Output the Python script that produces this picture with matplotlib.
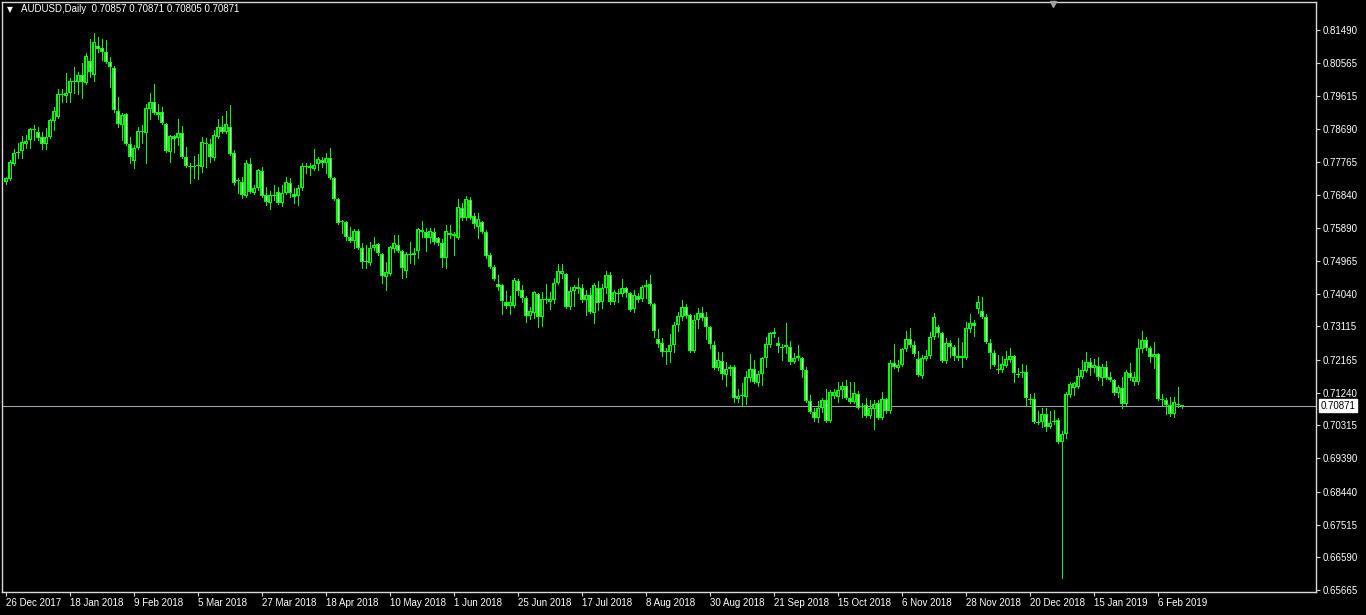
import numpy as np
import matplotlib
matplotlib.use("Agg")
from matplotlib import pyplot as plt

plt.rcParams['font.family'] = ['Liberation Sans', 'DejaVu Sans']

# daily AUDUSD candles, 26 Dec 2017 .. Feb 2019
opens = [0.7719, 0.7728, 0.7770, 0.7801, 0.7807, 0.7827, 0.7838, 0.7866, 0.7861, 0.7847,
         0.7827, 0.7847, 0.7892, 0.7903, 0.7965, 0.7962, 0.7971, 0.8002, 0.8002, 0.8022,
         0.7999, 0.8061, 0.8022, 0.8104, 0.8098, 0.8087, 0.8059, 0.8042, 0.7920, 0.7880,
         0.7912, 0.7827, 0.7779, 0.7816, 0.7864, 0.7858, 0.7926, 0.7945, 0.7917, 0.7917,
         0.7883, 0.7804, 0.7849, 0.7844, 0.7858, 0.7790, 0.7765, 0.7762, 0.7765, 0.7762,
         0.7830, 0.7827, 0.7787, 0.7847, 0.7875, 0.7861, 0.7875, 0.7801, 0.7722, 0.7720,
         0.7680, 0.7770, 0.7688, 0.7702, 0.7750, 0.7683, 0.7660, 0.7680, 0.7691, 0.7660,
         0.7688, 0.7717, 0.7686, 0.7680, 0.7702, 0.7762, 0.7765, 0.7756, 0.7770, 0.7782,
         0.7773, 0.7787, 0.7731, 0.7672, 0.7606, 0.7606, 0.7564, 0.7553, 0.7581, 0.7533,
         0.7493, 0.7490, 0.7533, 0.7544, 0.7516, 0.7451, 0.7459, 0.7530, 0.7541, 0.7524,
         0.7468, 0.7513, 0.7513, 0.7524, 0.7584, 0.7578, 0.7561, 0.7578, 0.7561, 0.7547,
         0.7505, 0.7570, 0.7573, 0.7561, 0.7646, 0.7618, 0.7669, 0.7624, 0.7592, 0.7606,
         0.7578, 0.7513, 0.7479, 0.7431, 0.7428, 0.7380, 0.7369, 0.7369, 0.7440, 0.7414,
         0.7392, 0.7341, 0.7349, 0.7403, 0.7338, 0.7386, 0.7380, 0.7386, 0.7434, 0.7459,
         0.7459, 0.7366, 0.7411, 0.7423, 0.7420, 0.7386, 0.7400, 0.7349, 0.7420, 0.7380,
         0.7420, 0.7456, 0.7380, 0.7403, 0.7403, 0.7420, 0.7406, 0.7360, 0.7397, 0.7389,
         0.7423, 0.7431, 0.7374, 0.7276, 0.7264, 0.7242, 0.7239, 0.7259, 0.7315, 0.7338,
         0.7366, 0.7344, 0.7242, 0.7329, 0.7349, 0.7338, 0.7310, 0.7259, 0.7194, 0.7214,
         0.7174, 0.7191, 0.7197, 0.7106, 0.7115, 0.7112, 0.7165, 0.7191, 0.7151, 0.7177,
         0.7222, 0.7259, 0.7290, 0.7264, 0.7253, 0.7253, 0.7253, 0.7211, 0.7222, 0.7222,
         0.7188, 0.7101, 0.7069, 0.7053, 0.7081, 0.7103, 0.7044, 0.7115, 0.7112, 0.7132,
         0.7143, 0.7109, 0.7098, 0.7120, 0.7084, 0.7089, 0.7058, 0.7078, 0.7095, 0.7053,
         0.7106, 0.7072, 0.7208, 0.7194, 0.7202, 0.7248, 0.7276, 0.7259, 0.7219, 0.7171,
         0.7219, 0.7228, 0.7281, 0.7310, 0.7293, 0.7214, 0.7264, 0.7253, 0.7228, 0.7222,
         0.7222, 0.7304, 0.7321, 0.7360, 0.7355, 0.7338, 0.7264, 0.7236, 0.7191, 0.7188,
         0.7199, 0.7216, 0.7228, 0.7177, 0.7180, 0.7182, 0.7106, 0.7106, 0.7039, 0.7041,
         0.7064, 0.7027, 0.7041, 0.7047, 0.6985, 0.7007, 0.7117, 0.7137, 0.7140, 0.7168,
         0.7185, 0.7211, 0.7194, 0.7199, 0.7165, 0.7197, 0.7168, 0.7160, 0.7123, 0.7137,
         0.7092, 0.7180, 0.7154, 0.7154, 0.7248, 0.7273, 0.7250, 0.7225, 0.7233, 0.7106,
         0.7103, 0.7089, 0.7064, 0.7089, 0.70857]
highs = [0.7734, 0.7782, 0.7813, 0.7830, 0.7849, 0.7852, 0.7872, 0.7880, 0.7875, 0.7861,
         0.7872, 0.7897, 0.7931, 0.7982, 0.7982, 0.8027, 0.8013, 0.8044, 0.8030, 0.8056,
         0.8084, 0.8124, 0.8141, 0.8129, 0.8124, 0.8121, 0.8073, 0.8046, 0.7960, 0.7914,
         0.7914, 0.7847, 0.7824, 0.7875, 0.7880, 0.7940, 0.7971, 0.7996, 0.7940, 0.7931,
         0.7886, 0.7852, 0.7852, 0.7897, 0.7878, 0.7818, 0.7773, 0.7793, 0.7798, 0.7847,
         0.7844, 0.7841, 0.7866, 0.7897, 0.7906, 0.7920, 0.7937, 0.7810, 0.7731, 0.7734,
         0.7782, 0.7787, 0.7711, 0.7756, 0.7762, 0.7705, 0.7694, 0.7711, 0.7705, 0.7711,
         0.7734, 0.7731, 0.7702, 0.7711, 0.7773, 0.7773, 0.7773, 0.7813, 0.7790, 0.7790,
         0.7801, 0.7816, 0.7734, 0.7674, 0.7612, 0.7609, 0.7592, 0.7587, 0.7587, 0.7547,
         0.7541, 0.7550, 0.7564, 0.7547, 0.7519, 0.7493, 0.7539, 0.7570, 0.7570, 0.7527,
         0.7521, 0.7550, 0.7533, 0.7589, 0.7609, 0.7589, 0.7589, 0.7589, 0.7564, 0.7558,
         0.7598, 0.7598, 0.7578, 0.7672, 0.7660, 0.7680, 0.7677, 0.7632, 0.7632, 0.7609,
         0.7584, 0.7519, 0.7485, 0.7456, 0.7431, 0.7411, 0.7397, 0.7448, 0.7445, 0.7428,
         0.7397, 0.7366, 0.7411, 0.7406, 0.7408, 0.7431, 0.7408, 0.7448, 0.7488, 0.7488,
         0.7462, 0.7423, 0.7428, 0.7448, 0.7431, 0.7414, 0.7420, 0.7434, 0.7440, 0.7431,
         0.7468, 0.7465, 0.7414, 0.7417, 0.7445, 0.7423, 0.7408, 0.7414, 0.7406, 0.7428,
         0.7442, 0.7456, 0.7377, 0.7304, 0.7278, 0.7250, 0.7290, 0.7324, 0.7352, 0.7386,
         0.7374, 0.7346, 0.7344, 0.7363, 0.7366, 0.7352, 0.7312, 0.7270, 0.7239, 0.7239,
         0.7211, 0.7202, 0.7202, 0.7134, 0.7151, 0.7185, 0.7233, 0.7216, 0.7185, 0.7225,
         0.7281, 0.7295, 0.7307, 0.7281, 0.7262, 0.7321, 0.7270, 0.7236, 0.7259, 0.7225,
         0.7197, 0.7117, 0.7081, 0.7101, 0.7109, 0.7134, 0.7132, 0.7134, 0.7154, 0.7154,
         0.7160, 0.7154, 0.7154, 0.7129, 0.7095, 0.7109, 0.7103, 0.7103, 0.7103, 0.7126,
         0.7109, 0.7216, 0.7262, 0.7216, 0.7250, 0.7298, 0.7307, 0.7270, 0.7242, 0.7231,
         0.7245, 0.7295, 0.7349, 0.7315, 0.7295, 0.7278, 0.7273, 0.7259, 0.7278, 0.7267,
         0.7324, 0.7346, 0.7329, 0.7397, 0.7394, 0.7346, 0.7276, 0.7245, 0.7231, 0.7228,
         0.7242, 0.7250, 0.7231, 0.7194, 0.7205, 0.7202, 0.7120, 0.7123, 0.7072, 0.7081,
         0.7081, 0.7072, 0.7075, 0.7053, 0.7016, 0.7126, 0.7154, 0.7154, 0.7194, 0.7216,
         0.7239, 0.7222, 0.7219, 0.7225, 0.7205, 0.7214, 0.7182, 0.7163, 0.7146, 0.7168,
         0.7188, 0.7208, 0.7182, 0.7276, 0.7298, 0.7281, 0.7256, 0.7267, 0.7236, 0.7120,
         0.7109, 0.7112, 0.7112, 0.7140, 0.70871]
lows = [0.7714, 0.7725, 0.7768, 0.7787, 0.7787, 0.7816, 0.7816, 0.7838, 0.7838, 0.7813,
        0.7813, 0.7844, 0.7866, 0.7900, 0.7945, 0.7945, 0.7945, 0.7971, 0.7968, 0.7957,
        0.7996, 0.8016, 0.8005, 0.8087, 0.8064, 0.8056, 0.7988, 0.7918, 0.7875, 0.7838,
        0.7824, 0.7773, 0.7759, 0.7814, 0.7830, 0.7773, 0.7897, 0.7912, 0.7897, 0.7883,
        0.7804, 0.7776, 0.7804, 0.7824, 0.7787, 0.7762, 0.7717, 0.7731, 0.7728, 0.7748,
        0.7762, 0.7776, 0.7782, 0.7844, 0.7858, 0.7858, 0.7796, 0.7711, 0.7688, 0.7674,
        0.7677, 0.7688, 0.7686, 0.7697, 0.7677, 0.7655, 0.7643, 0.7669, 0.7657, 0.7652,
        0.7686, 0.7677, 0.7660, 0.7655, 0.7697, 0.7745, 0.7739, 0.7753, 0.7753, 0.7762,
        0.7745, 0.7728, 0.7669, 0.7601, 0.7575, 0.7556, 0.7550, 0.7533, 0.7530, 0.7476,
        0.7476, 0.7485, 0.7527, 0.7513, 0.7434, 0.7414, 0.7456, 0.7521, 0.7521, 0.7448,
        0.7451, 0.7490, 0.7488, 0.7505, 0.7564, 0.7524, 0.7547, 0.7544, 0.7541, 0.7479,
        0.7476, 0.7561, 0.7513, 0.7558, 0.7612, 0.7612, 0.7615, 0.7590, 0.7561, 0.7575,
        0.7505, 0.7476, 0.7442, 0.7414, 0.7346, 0.7363, 0.7346, 0.7366, 0.7400, 0.7380,
        0.7324, 0.7332, 0.7335, 0.7310, 0.7312, 0.7377, 0.7360, 0.7377, 0.7431, 0.7448,
        0.7363, 0.7360, 0.7369, 0.7406, 0.7380, 0.7344, 0.7349, 0.7321, 0.7358, 0.7363,
        0.7406, 0.7374, 0.7374, 0.7380, 0.7397, 0.7394, 0.7355, 0.7352, 0.7380, 0.7383,
        0.7392, 0.7372, 0.7281, 0.7253, 0.7228, 0.7205, 0.7211, 0.7239, 0.7298, 0.7329,
        0.7335, 0.7239, 0.7239, 0.7307, 0.7329, 0.7276, 0.7250, 0.7191, 0.7188, 0.7163,
        0.7143, 0.7174, 0.7098, 0.7098, 0.7087, 0.7092, 0.7157, 0.7151, 0.7143, 0.7146,
        0.7197, 0.7253, 0.7281, 0.7239, 0.7216, 0.7236, 0.7205, 0.7208, 0.7216, 0.7168,
        0.7098, 0.7067, 0.7044, 0.7041, 0.7069, 0.7041, 0.7041, 0.7109, 0.7098, 0.7109,
        0.7106, 0.7095, 0.7095, 0.7078, 0.7056, 0.7056, 0.7053, 0.7021, 0.7050, 0.7050,
        0.7067, 0.7067, 0.7194, 0.7185, 0.7199, 0.7242, 0.7253, 0.7228, 0.7171, 0.7165,
        0.7216, 0.7222, 0.7276, 0.7281, 0.7211, 0.7208, 0.7225, 0.7216, 0.7216, 0.7197,
        0.7219, 0.7295, 0.7284, 0.7349, 0.7335, 0.7264, 0.7194, 0.7199, 0.7180, 0.7182,
        0.7197, 0.7211, 0.7154, 0.7168, 0.7168, 0.7087, 0.7092, 0.7039, 0.7036, 0.7027,
        0.7016, 0.7024, 0.7036, 0.6982, 0.6600, 0.6996, 0.7112, 0.7117, 0.7137, 0.7165,
        0.7182, 0.7174, 0.7182, 0.7160, 0.7146, 0.7163, 0.7157, 0.7117, 0.7112, 0.7081,
        0.7089, 0.7160, 0.7146, 0.7149, 0.7239, 0.7245, 0.7211, 0.7194, 0.7103, 0.7089,
        0.7064, 0.7058, 0.7056, 0.7084, 0.70805]
closes = [0.7731, 0.7776, 0.7801, 0.7804, 0.7832, 0.7835, 0.7869, 0.7869, 0.7844, 0.7827,
          0.7847, 0.7895, 0.7920, 0.7968, 0.7968, 0.7971, 0.8005, 0.8003, 0.8022, 0.8002,
          0.8076, 0.8030, 0.8115, 0.8095, 0.8087, 0.8059, 0.8044, 0.7923, 0.7883, 0.7909,
          0.7827, 0.7790, 0.7816, 0.7864, 0.7861, 0.7929, 0.7945, 0.7914, 0.7909, 0.7886,
          0.7807, 0.7849, 0.7841, 0.7858, 0.7790, 0.7765, 0.7762, 0.7765, 0.7768, 0.7832,
          0.7827, 0.7790, 0.7852, 0.7875, 0.7861, 0.7883, 0.7799, 0.7717, 0.7725, 0.7683,
          0.7773, 0.7691, 0.7702, 0.7753, 0.7680, 0.7663, 0.7683, 0.7682, 0.7660, 0.7688,
          0.7719, 0.7688, 0.7677, 0.7702, 0.7765, 0.7765, 0.7759, 0.7768, 0.7784, 0.7773,
          0.7787, 0.7731, 0.7672, 0.7604, 0.7609, 0.7564, 0.7553, 0.7581, 0.7533, 0.7493,
          0.7494, 0.7533, 0.7541, 0.7519, 0.7454, 0.7465, 0.7536, 0.7547, 0.7524, 0.7476,
          0.7516, 0.7514, 0.7519, 0.7587, 0.7578, 0.7561, 0.7581, 0.7550, 0.7547, 0.7505,
          0.7581, 0.7575, 0.7567, 0.7649, 0.7618, 0.7672, 0.7618, 0.7601, 0.7615, 0.7578,
          0.7510, 0.7479, 0.7445, 0.7423, 0.7383, 0.7369, 0.7380, 0.7442, 0.7411, 0.7392,
          0.7341, 0.7355, 0.7408, 0.7338, 0.7389, 0.7387, 0.7389, 0.7434, 0.7468, 0.7468,
          0.7366, 0.7411, 0.7423, 0.7417, 0.7386, 0.7400, 0.7352, 0.7428, 0.7377, 0.7420,
          0.7456, 0.7380, 0.7408, 0.7406, 0.7420, 0.7406, 0.7358, 0.7400, 0.7386, 0.7423,
          0.7428, 0.7374, 0.7298, 0.7262, 0.7239, 0.7239, 0.7259, 0.7315, 0.7341, 0.7366,
          0.7341, 0.7242, 0.7329, 0.7349, 0.7335, 0.7310, 0.7262, 0.7194, 0.7216, 0.7177,
          0.7191, 0.7197, 0.7109, 0.7115, 0.7114, 0.7168, 0.7191, 0.7154, 0.7177, 0.7222,
          0.7262, 0.7293, 0.7295, 0.7256, 0.7250, 0.7259, 0.7211, 0.7222, 0.7228, 0.7188,
          0.7101, 0.7069, 0.7053, 0.7081, 0.7103, 0.7044, 0.7126, 0.7126, 0.7132, 0.7143,
          0.7109, 0.7098, 0.7123, 0.7081, 0.7085, 0.7058, 0.7081, 0.7092, 0.7053, 0.7106,
          0.7072, 0.7208, 0.7197, 0.7202, 0.7248, 0.7276, 0.7259, 0.7233, 0.7174, 0.7222,
          0.7228, 0.7281, 0.7338, 0.7293, 0.7214, 0.7264, 0.7253, 0.7228, 0.7222, 0.7228,
          0.7307, 0.7321, 0.7312, 0.7380, 0.7338, 0.7267, 0.7236, 0.7202, 0.7188, 0.7205,
          0.7219, 0.7228, 0.7180, 0.7174, 0.7182, 0.7109, 0.7103, 0.7041, 0.7041, 0.7064,
          0.7027, 0.7039, 0.7044, 0.6985, 0.7007, 0.7120, 0.7149, 0.7151, 0.7171, 0.7188,
          0.7211, 0.7194, 0.7202, 0.7168, 0.7197, 0.7165, 0.7160, 0.7123, 0.7140, 0.7092,
          0.7182, 0.7165, 0.7168, 0.7250, 0.7273, 0.7250, 0.7225, 0.7233, 0.7106, 0.7103,
          0.7089, 0.7064, 0.7098, 0.7092, 0.70871]

date_labels = ["26 Dec 2017", "18 Jan 2018", "9 Feb 2018", "5 Mar 2018", "27 Mar 2018",
               "18 Apr 2018", "10 May 2018", "1 Jun 2018", "25 Jun 2018", "17 Jul 2018",
               "8 Aug 2018", "30 Aug 2018", "21 Sep 2018", "15 Oct 2018", "6 Nov 2018",
               "28 Nov 2018", "20 Dec 2018", "15 Jan 2019", "6 Feb 2019"]
date_bars = list(range(0, 16 * len(date_labels), 16))

price_ticks = [0.81490, 0.80565, 0.79615, 0.78690, 0.77765, 0.76840, 0.75890, 0.74965,
               0.74040, 0.73115, 0.72165, 0.71240, 0.70315, 0.69390, 0.68440, 0.67515,
               0.66590, 0.65665]
last_price = 0.70871

GREEN = '#00ff00'
PX = 0.72  # one pixel in points at dpi 100
W, H = 1366, 615
fig = plt.figure(figsize=(W / 100, H / 100), dpi=100, facecolor='black')
ax = fig.add_axes([2 / W, (H - 592) / H, 1314 / W, 590 / H], facecolor='black')

ax.set_xlim(-1, 327.5)
ax.set_ylim(0.65608, 0.82281)
ypx = (0.82281 - 0.65608) / 590  # price per pixel

o = np.array(opens); c = np.array(closes)
hi = np.array(highs); lo = np.array(lows)
x = np.arange(len(o))

ax.vlines(x, lo, hi, color=GREEN, lw=PX, zorder=2, antialiased=False)
bull = c >= o
body_lo = np.minimum(o, c)
body_hi = np.maximum(o, c)
# outer green body, then a 1px-inset fill (black for up days, white for down days)
ax.bar(x, np.maximum(body_hi - body_lo, ypx), bottom=body_lo, width=0.78,
       color=GREEN, lw=0, zorder=3, antialiased=False)
inner_h = body_hi - body_lo - 2 * ypx
show = inner_h > 0
ax.bar(x[show], inner_h[show], bottom=body_lo[show] + ypx, width=0.25,
       color=np.where(bull[show], 'black', 'white'), lw=0, zorder=4, antialiased=False)

# current price line
ax.axhline(last_price, color='#9aa3ad', lw=0.8, zorder=1)

for s in ax.spines.values():
    s.set_color('#d8d8d8')
    s.set_linewidth(1)

ax.yaxis.tick_right()
ax.set_yticks(price_ticks)
ax.set_yticklabels([f"{p:.5f}" for p in price_ticks])
ax.tick_params(axis='y', colors='#d8d8d8', labelcolor='white', length=3, width=0.8,
               labelsize=7, pad=1.5)
ax.set_xticks(date_bars)
ax.set_xticklabels(date_labels, ha='left')
ax.tick_params(axis='x', colors='#d8d8d8', labelcolor='white', length=3, width=0.8,
               labelsize=7, pad=1.5)

# price label box on the right axis
ax.text(1.0035, last_price, f"{last_price:.5f}", transform=ax.get_yaxis_transform(),
        fontsize=7, color='black', va='center', ha='left',
        bbox=dict(boxstyle='square,pad=0.15', facecolor='white', edgecolor='white'))

# header
ax.text(0.0035, 0.988, "\u25bc", transform=ax.transAxes, fontsize=5.5, color='white',
        va='center', ha='left', family=['DejaVu Sans'])
ax.text(0.0145, 0.988, "AUDUSD,Daily  0.70857 0.70871 0.70805 0.70871",
        transform=ax.transAxes, fontsize=7, color='white', va='center', ha='left')

# chart shift marker
ax.plot([(1053 - 6) / 4], [0.997], marker='v', ms=5, color='#a0a0a0',
        transform=ax.get_xaxis_transform(), clip_on=False, zorder=5)

fig.savefig("out.png", dpi=100, facecolor='black')
